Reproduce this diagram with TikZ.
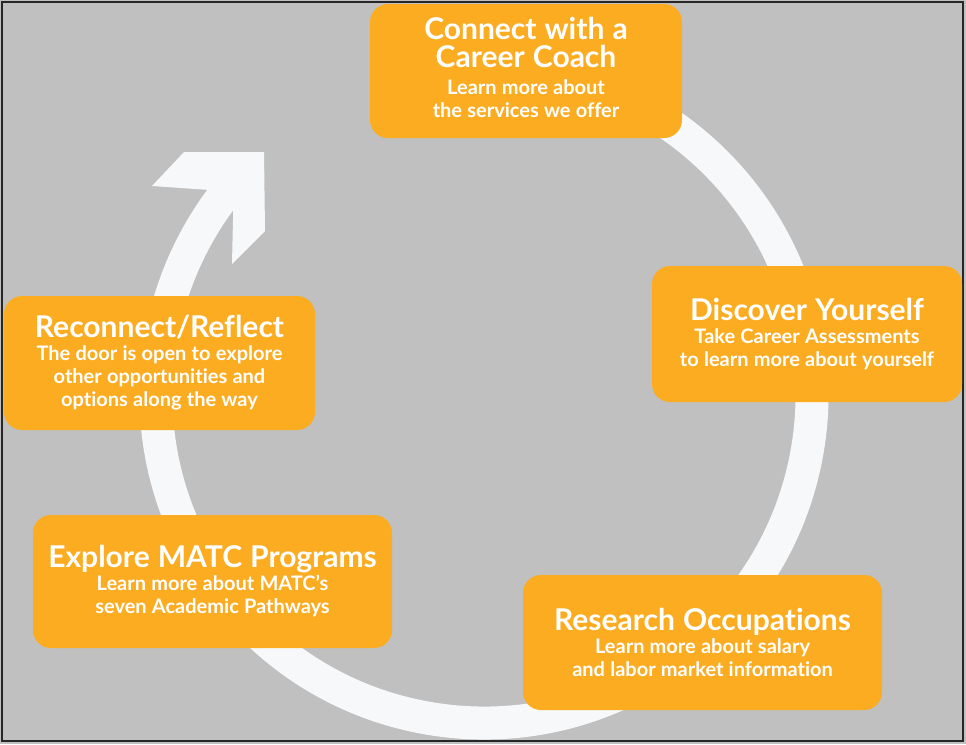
\documentclass[tikz,border=0pt]{standalone}
\usepackage{fontspec}
\setmainfont{Lato}[Ligatures=NoCommon]
\usetikzlibrary{calc}
\definecolor{bg}{RGB}{192,192,192}
\definecolor{orng}{RGB}{252,172,33}
\definecolor{ringw}{RGB}{247,248,250}
\newcommand\boxtitle{\fontsize{30}{28}\selectfont\spaceskip=0.27em\relax}
\newcommand\boxsub{\fontsize{20}{23}\selectfont\spaceskip=0.26em\relax}
\begin{document}
\begin{tikzpicture}[x=1pt,y=-1pt,
  box/.style={fill=orng, rounded corners=18pt, text=white, align=center,
    inner sep=0pt, font=\bfseries},
  ringline/.style={ringw, line width=33pt},
  ringhead/.style={fill=ringw}]
\fill[bg] (0,0) rectangle (966,744);
\useasboundingbox (0,0) rectangle (966,744);
\draw[line width=1.6pt, black!85] (2,2) rectangle (963,741);
\coordinate (c) at (484,395);
\draw[ringline] ($(c)+(-80:328)$) arc[start angle=-80, end angle=217, radius=328];
\fill[ringhead] ($(c)+(216.5:345)$) -- (152,186) -- (184,152) -- (264,152)
  -- (265,231) -- (232,264) -- ($(c)+(216.5:312)$) -- cycle;
\node[box, text width=300pt, minimum width=312pt, minimum height=134pt] (coach) at (526,71)
  {\boxtitle Connect with a\par Career Coach\par\vspace{4pt}
   \boxsub Learn more about\par the services we offer\par\vspace{8pt}};
\node[box, text width=300pt, minimum width=310pt, minimum height=136pt] (discover) at (807,334)
  {\boxtitle Discover Yourself\par
   \boxsub Take Career Assessments\par to learn more about yourself\par};
\node[box, text width=300pt, minimum width=311pt, minimum height=134pt] (reflect) at (159.5,363)
  {\boxtitle Reconnect/Reflect\par
   \boxsub The door is open to explore\par other opportunities and\par options along the way\par};
\node[box, text width=345pt, minimum width=359pt, minimum height=133pt] (explore) at (212.5,581.5)
  {\boxtitle Explore MATC Programs\par
   \boxsub Learn more about MATC’s\par seven Academic Pathways\par};
\node[box, text width=345pt, minimum width=359pt, minimum height=135pt] (research) at (702.5,642.5)
  {\boxtitle Research Occupations\par
   \boxsub Learn more about salary\par and labor market information\par};
\end{tikzpicture}
\end{document}
